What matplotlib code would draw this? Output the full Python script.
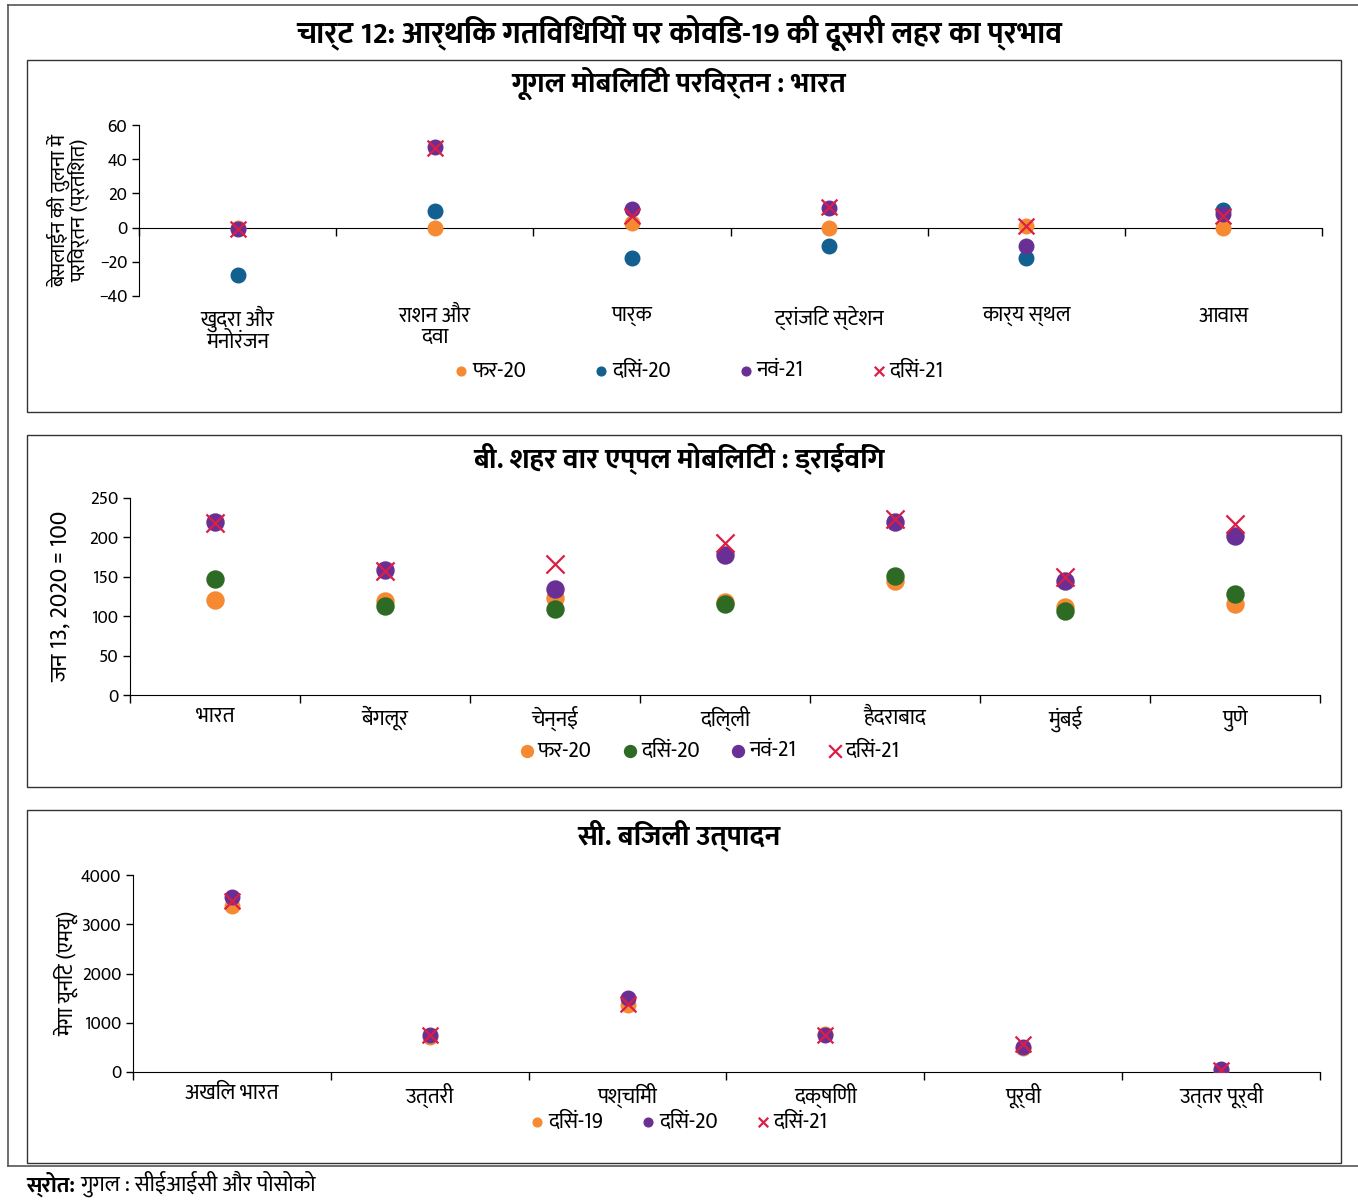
import numpy as np
import matplotlib
matplotlib.use('Agg')
import matplotlib.pyplot as plt
from matplotlib.patches import Rectangle
from matplotlib.lines import Line2D
from matplotlib.transforms import blended_transform_factory

plt.rcParams['font.family'] = ['Ek Mukta', 'Noto Sans Devanagari', 'DejaVu Sans']

# ---- data ----
# A. गूगल मोबिलिटी
cat_a = ['खुदरा और\nमनोरंजन', 'राशन और\nदवा', 'पार्क', 'ट्रांजिट स्टेशन', 'कार्य स्थल', 'आवास']
a_feb20 = [0, 0, 2.5, 0, 1, 0]
a_dec20 = [-27.5, 9.5, -17.5, -11, -18, 10.5]
a_nov21 = [-1, 47, 11, 11.5, -10.5, 8]
a_dec21 = [-1, 46.5, 6.5, 12, 1, 7]
lab_a = ['फर-20', 'दिसं-20', 'नवं-21', 'दिसं-21']

# B. एप्पल मोबिलिटी
cat_b = ['भारत', 'बेंगलूर', 'चेन्नई', 'दिल्ली', 'हैदराबाद', 'मुंबई', 'पुणे']
b_feb20 = [121, 119, 123, 118, 145, 112, 116]
b_dec20 = [147, 113, 109, 115, 151, 107, 128]
b_nov21 = [219, 158, 134, 178, 220, 145, 202]
b_dec21 = [218, 157, 166, 193, 223, 150, 217]
lab_b = ['फर-20', 'दिसं-20', 'नवं-21', 'दिसं-21']

# C. बिजली उत्पादन
cat_c = ['अखिल भारत', 'उत्तरी', 'पश्चिमी', 'दक्षिणी', 'पूर्वी', 'उत्तर पूर्वी']
c_dec19 = [3370, 710, 1360, 780, 480, 50]
c_dec20 = [3560, 750, 1510, 750, 510, 55]
c_dec21 = [3480, 750, 1380, 750, 570, 50]
lab_c = ['दिसं-19', 'दिसं-20', 'दिसं-21']

orange = '#F58A32'
blue = '#12608F'
purple = '#6A2F94'
green = '#2D6A24'
red = '#DC1E46'

W, H = 1358, 1203
fig = plt.figure(figsize=(W / 100, H / 100), dpi=100)

def fx(px):
    return px / W

def fy(py):
    return 1 - py / H

# outer frame and panel boxes
fig.add_artist(Line2D([fx(8), fx(8)], [fy(5), fy(1166)], color='#555555', lw=1.2))
fig.add_artist(Line2D([fx(8), 1], [fy(5), fy(5)], color='#555555', lw=1.2))
fig.add_artist(Line2D([fx(8), 1], [fy(1166), fy(1166)], color='#555555', lw=1.2))
for top, bot in [(60, 412), (435, 787), (810, 1163)]:
    fig.add_artist(Rectangle((fx(27), fy(bot)), fx(1341) - fx(27), fy(top) - fy(bot),
                             fill=False, ec='#333333', lw=1.0, transform=fig.transFigure))

fig.text(0.5, fy(33), 'चार्ट 12: आर्थिक गतिविधियों पर कोविड-19 की दूसरी लहर का प्रभाव',
         ha='center', va='center', fontsize=22, fontweight='bold')
fig.text(fx(26), fy(1184), 'स्रोत:', ha='left', va='center', fontsize=16, fontweight='bold')
fig.text(fx(80), fy(1184), 'गुगल : सीईआईसी और पोसोको', ha='left', va='center', fontsize=16)


def setup(ax, n, cats, ymin, ymax, yticks, zero_axis=False):
    x = np.arange(n)
    ax.set_xlim(-0.5, n - 0.5)
    ax.set_ylim(ymin, ymax)
    ax.set_yticks(yticks)
    ax.set_xticks(np.arange(n + 1) - 0.5)
    ax.set_xticklabels([])
    ax.spines['top'].set_visible(False)
    ax.spines['right'].set_visible(False)
    if zero_axis:
        ax.spines['bottom'].set_position(('data', 0))
    ax.tick_params(axis='both', direction='out', length=5, width=1, labelsize=13)
    ax.tick_params(axis='x', length=6)
    tr = blended_transform_factory(ax.transData, ax.transAxes)
    for xi, c in zip(x, cats):
        ax.text(xi, -0.055, c, transform=tr, ha='center', va='top', fontsize=15.5,
                linespacing=1.0)
    return x


# ---- panel A ----
axA = fig.add_axes([fx(139), fy(296), fx(1322) - fx(139), fy(125) - fy(296)])
x = setup(axA, 6, cat_a, -40, 60, [-40, -20, 0, 20, 40, 60], zero_axis=True)
axA.scatter(x, a_feb20, s=110, color=orange, zorder=3, label=lab_a[0])
axA.scatter(x, a_dec20, s=110, color=blue, zorder=3, label=lab_a[1])
axA.scatter(x, a_nov21, s=110, color=purple, zorder=4, label=lab_a[2])
axA.scatter(x, a_dec21, s=130, marker='x', color=red, linewidths=1.6, zorder=5, label=lab_a[3])
axA.set_ylabel('बेसलाईन की तुलना में\nपरिवर्तन (प्रतिशत)', fontsize=15, linespacing=0.9, labelpad=6)
fig.text(0.5, fy(83), 'गूगल मोबिलिटी परिवर्तन : भारत', ha='center', va='center',
         fontsize=20.5, fontweight='bold')
axA.legend(loc='center', bbox_to_anchor=(fx(697), fy(371)), bbox_transform=fig.transFigure,
           ncol=4, frameon=False, fontsize=15.5, markerscale=0.6, handletextpad=0.0,
           columnspacing=3.0, handlelength=1.0)

# ---- panel B ----
axB = fig.add_axes([fx(130), fy(695), fx(1320) - fx(130), fy(498) - fy(695)])
x = setup(axB, 7, cat_b, 0, 250, [0, 50, 100, 150, 200, 250])
axB.scatter(x, b_feb20, s=150, color=orange, zorder=3, label=lab_b[0])
axB.scatter(x, b_dec20, s=150, color=green, zorder=4, label=lab_b[1])
axB.scatter(x, b_nov21, s=150, color=purple, zorder=4, label=lab_b[2])
axB.scatter(x, b_dec21, s=170, marker='x', color=red, linewidths=1.6, zorder=5, label=lab_b[3])
axB.set_ylabel('जन 13, 2020 = 100', fontsize=17, labelpad=12)
fig.text(0.5, fy(458), 'बी. शहर वार एप्पल मोबिलिटी : ड्राईविंग', ha='center', va='center',
         fontsize=20.5, fontweight='bold')
axB.legend(loc='center', bbox_to_anchor=(fx(708), fy(751)), bbox_transform=fig.transFigure,
           ncol=4, frameon=False, fontsize=15.5, markerscale=0.7, handletextpad=0.0,
           columnspacing=1.3, handlelength=1.0)

# ---- panel C ----
axC = fig.add_axes([fx(133), fy(1072), fx(1320) - fx(133), fy(875) - fy(1072)])
x = setup(axC, 6, cat_c, 0, 4000, [0, 1000, 2000, 3000, 4000])
axC.scatter(x, c_dec19, s=110, color=orange, zorder=3, label=lab_c[0])
axC.scatter(x, c_dec20, s=110, color=purple, zorder=4, label=lab_c[1])
axC.scatter(x, c_dec21, s=130, marker='x', color=red, linewidths=1.6, zorder=5, label=lab_c[2])
axC.set_ylabel('मेगा यूनिट (एमयू)', fontsize=15.5, labelpad=2)
fig.text(0.5, fy(835), 'सी. बिजली उत्पादन', ha='center', va='center',
         fontsize=20.5, fontweight='bold')
axC.legend(loc='center', bbox_to_anchor=(fx(677), fy(1122)), bbox_transform=fig.transFigure,
           ncol=3, frameon=False, fontsize=15.5, markerscale=0.6, handletextpad=0.0,
           columnspacing=1.6, handlelength=1.0)

fig.savefig('out.png', dpi=100)
